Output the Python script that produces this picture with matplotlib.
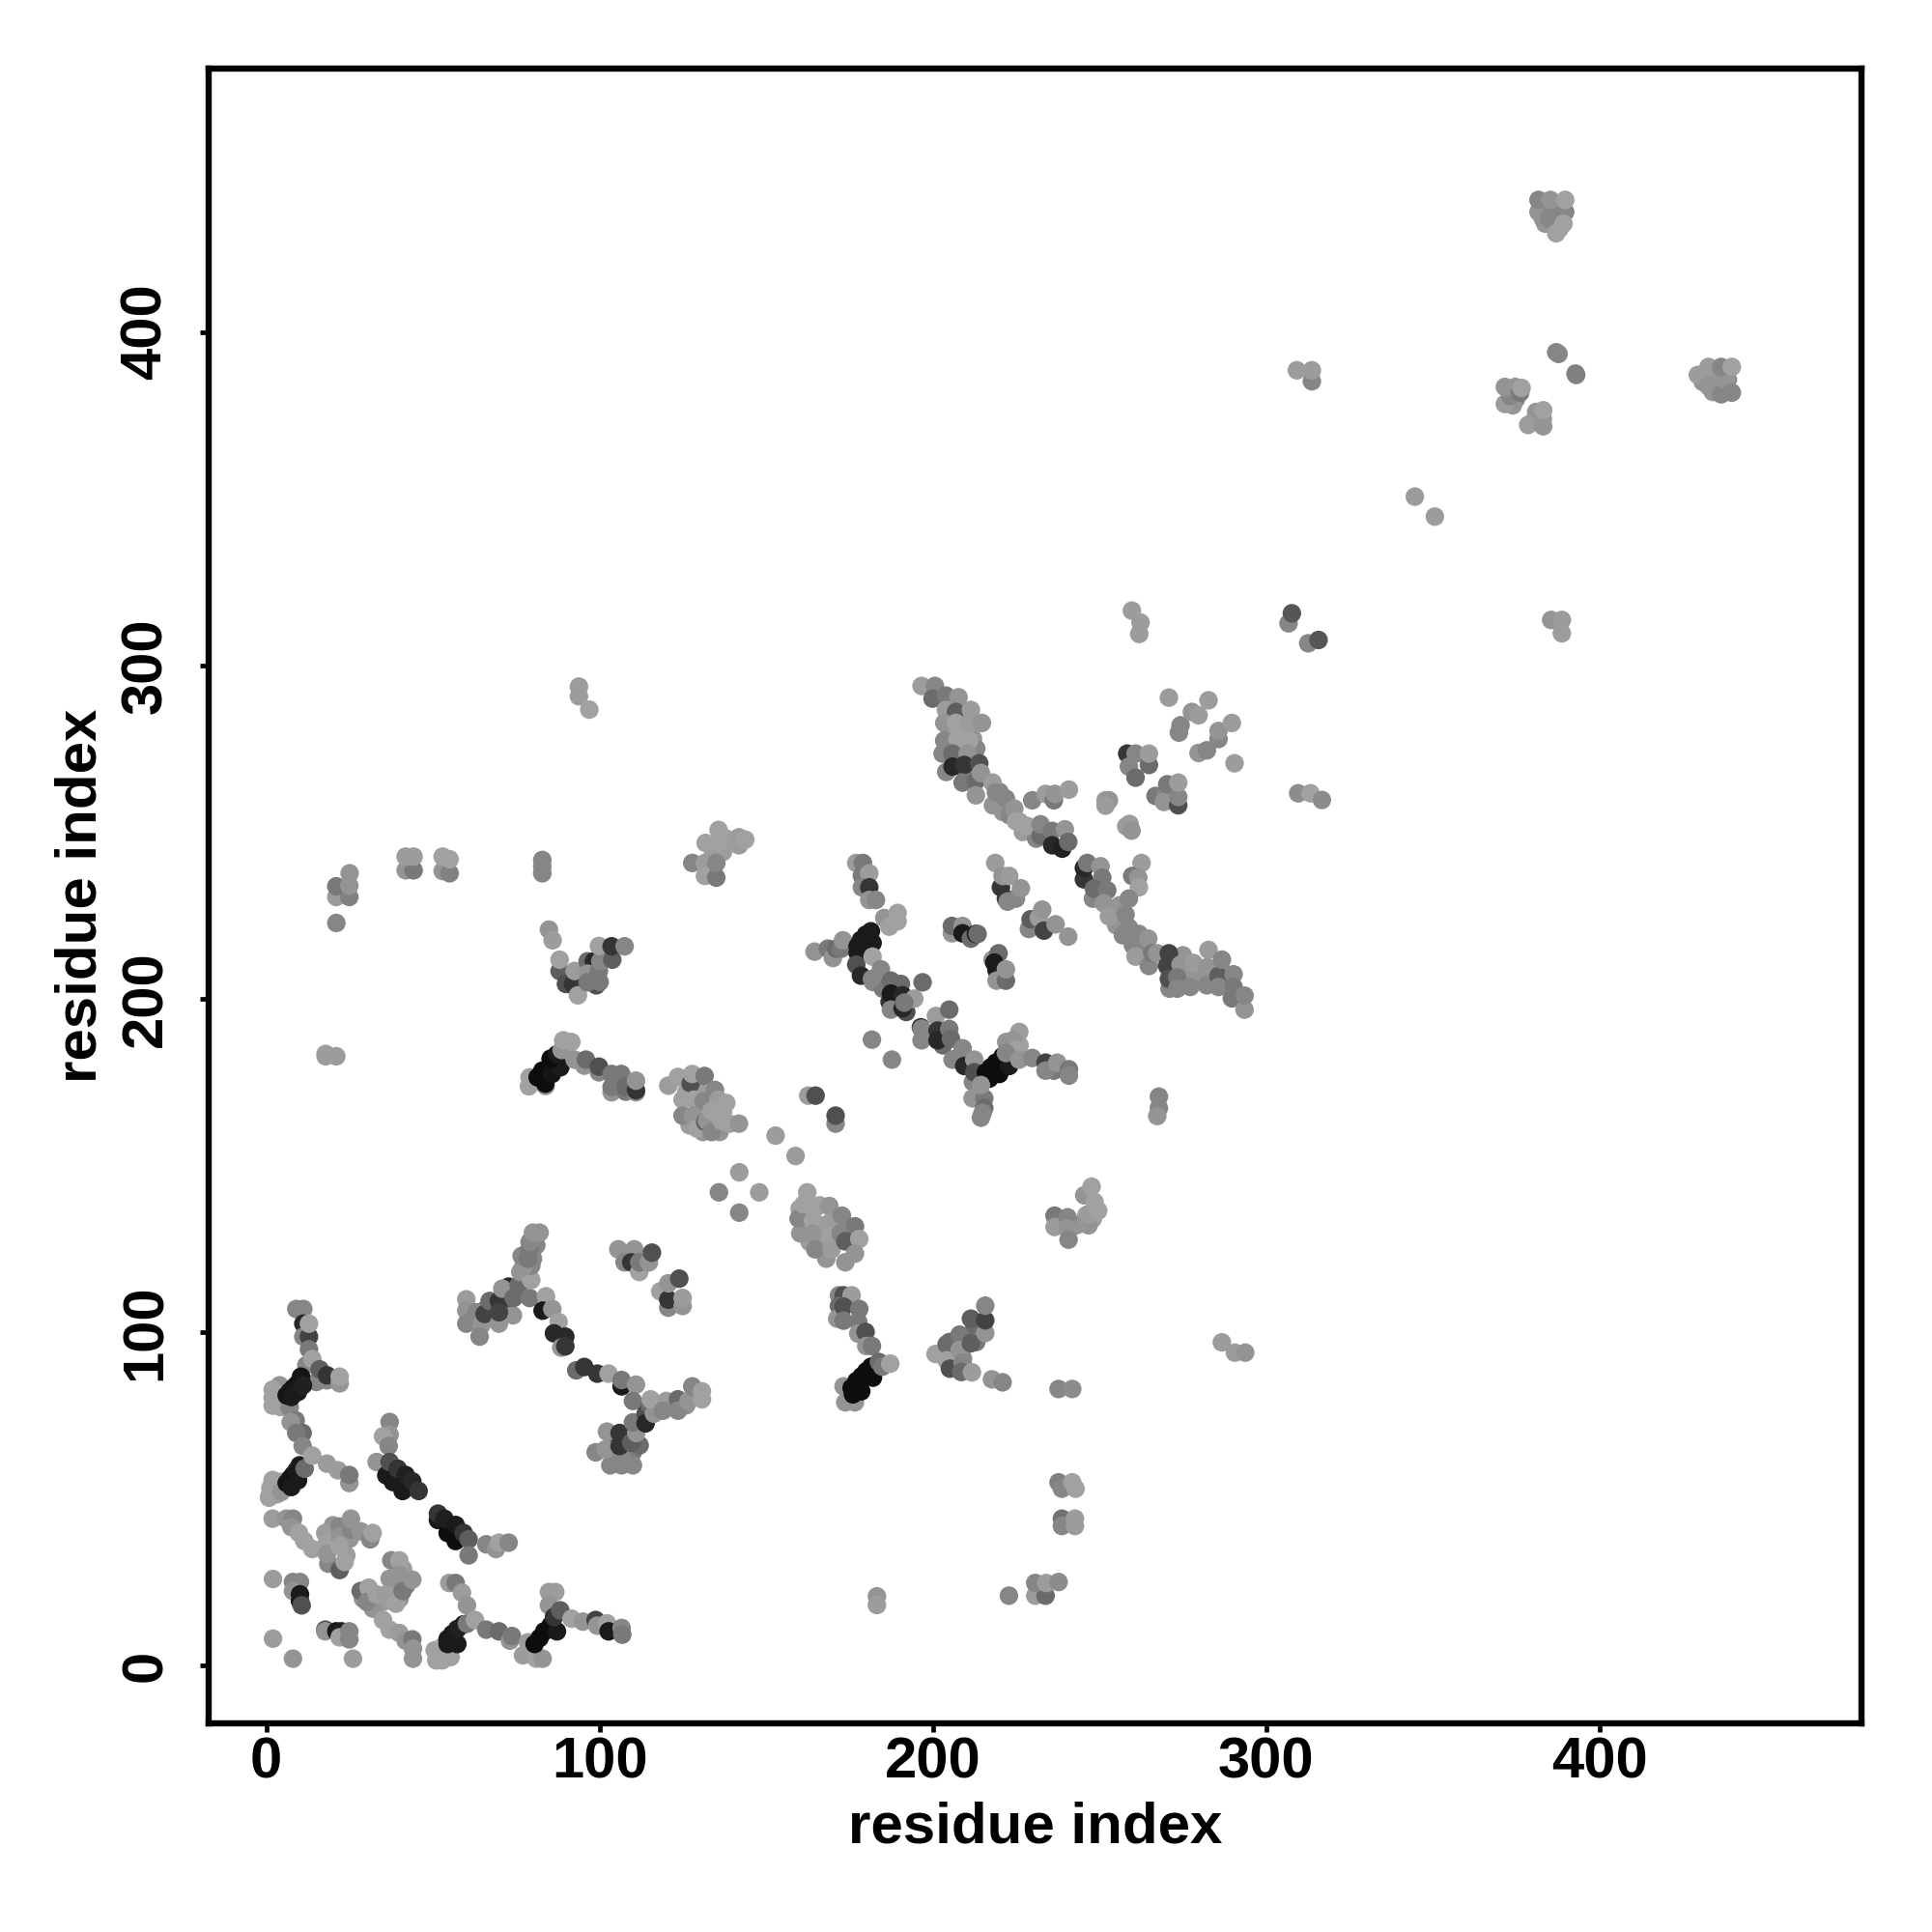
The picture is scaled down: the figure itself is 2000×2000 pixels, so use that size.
"""Residue contact map, grey level = contact strength (darker = stronger)."""

import matplotlib
matplotlib.use("Agg")
import matplotlib.pyplot as plt

XTICKS = [0, 100, 200, 300, 400]
YTICKS = [0, 100, 200, 300, 400]
AXIS_LABEL = "residue index"

# (residue x, residue y, grey level), drawn in this order
contacts_dense = [
    (166, 132, .6), (166, 127, .6), (171, 134, .6), (171, 129, .58), (175, 130, .55), (162, 135, .6), (166, 138, .6),
    (160, 137, .6), (168, 122, .55), (163, 127, .58),
    (126, 172, .6), (130, 172, .58), (130, 167, .6), (134, 167, .6), (134, 163, .6), (137, 166, .6), (131, 160, .55),
    (127, 162, .58), (136, 160, .55),
    (205, 280, .58), (209, 280, .6), (205, 275, .55), (209, 275, .58), (207, 284, .55), (212, 278, .55), (213, 275, .5),
    (204, 268, .5), (210, 268, .5),
    (218, 258, .55), (221, 256, .55), (223, 255, .5), (226, 253, .58), (220, 262, .5), (227, 250, .58), (231, 248, .5),
    (255, 222, .55), (257, 219, .5), (260, 216, .5), (253, 227, .55), (256, 228, .55), (263, 214, .5), (262, 217, .5),
    (248, 230, .5), (250, 234, .5),
    (276, 207, .55), (280, 208, .58), (275, 213, .55), (278, 206, .55), (283, 208, .55), (271, 203, .5), (288, 205, .5),
    (287, 208, .55),
    (383, 437, .55), (386, 434, .55), (388, 431, .55), (383, 434, .55), (387, 437, .5),
    (434, 386, .55), (436, 384, .55), (434, 382, .55), (437, 387, .55), (431, 385, .55),
    (375, 380, .5), (374, 378, .55), (380, 373, .55), (381, 376, .55),
    (20, 36, .58), (24, 33, .58), (20, 42, .55), (25, 38, .55), (33, 21, .58), (35, 19, .58), (38, 22, .55), (40, 20, .55),
    (42, 24, .5), (29, 20, .55), (32, 17, .55), (37, 26, .55), (41, 29, .58), (15, 85, .5), (12, 90, .5),
    (3, 52, .6), (2, 54, .6), (4, 55, .6), (1, 51, .6), (3, 80, .6), (4, 84, .55),
    (62, 104, .5), (66, 107, .45), (72, 108, .3), (74, 105, .55), (77, 118, .5), (80, 122, .5), (81, 126, .5),
    (116, 77, .5), (118, 78, .55), (112, 72, .3), (108, 67, .3), (104, 67, .4), (110, 64, .45), (112, 66, .4), (126, 78, .55),
    (92, 204, .4), (94, 206, .4), (99, 204, .3), (100, 205, .45), (101, 213, .45),
    (205, 97, .4), (206, 93, .5), (209, 92, .5), (212, 100, .4), (213, 97, .45),
    (138, 248, .6), (134, 243, .58), (137, 244, .58),
    (246, 135, .6), (248, 134, .6), (243, 132, .55), (238, 132, .55),
    (182, 205, .5), (185, 203, .45), (187, 199, .2), (192, 196, .3), (203, 186, .4), (207, 182, .4), (212, 175, .5),
    (226, 186, .6), (222, 187, .55),
]

contacts_lower_left = [
    (1.9, 82.7, .6), (1.9, 80.3, .6), (1.9, 77.9, .6), (4.2, 77.5, .6), (9, 106.9, .5), (11.1, 106.9, .5),
    (11.1, 102.5, .15), (11.1, 98.6, .5), (12.8, 98.6, .25), (12.8, 102.5, .6), (12.8, 94.8, .45), (13.8, 91.9, .6),
    (16, 88.8, .35), (18.2, 85.5, .5), (18.2, 87, .2), (22, 84.6, .55), (22, 86.6, .6),
    (7, 77.4, .5), (8.8, 73.5, .45), (7.3, 73, .55), (10.9, 69.7, .4), (9, 69.7, .45), (10.9, 65.8, .5),
    (6.1, 81, .08), (7.1, 82.2, .08), (8.1, 83.2, .08), (9.1, 84.2, .08), (10.1, 85.2, .08), (10.4, 86.6, .08),
    (7.5, 80.5, .1), (9.5, 82, .1), (11, 84, .12),
    (1.9, 55.6, .6), (1.2, 53.2, .6), (0.8, 50.3, .6), (3.2, 51.3, .6), (4.5, 52, .55),
    (6.1, 54.7, .08), (7.1, 56, .08), (8.1, 57.2, .08), (9.1, 58.5, .1), (10, 60, .1), (7.5, 53.5, .1), (9.5, 55.5, .1),
    (11.5, 59, .4), (13.8, 62.9, .6), (18.2, 60.5, .58), (21.5, 58.5, .58), (24.9, 54.7, .55), (24.9, 57.1, .45),
    (1.9, 44, .58), (6, 44, .55), (8, 44, .5), (7.5, 41.5, .55), (9.8, 39.7, .6), (11.4, 37.3, .6), (13.8, 34.9, .6),
    (18.6, 30.5, .5), (17.7, 39.7, .58), (18.2, 36.8, .6), (18.2, 33.4, .55), (22, 28.6, .35), (22, 41.6, .5),
    (22, 38.7, .55), (22, 35.8, .6), (23.5, 31, .6), (25.4, 40.7, .5), (25.4, 44, .55), (28.3, 40.2, .55),
    (31.2, 37.8, .5), (31.9, 39.7, .6),
    (2, 25.9, .58), (8, 25, .5), (10.1, 25, .5), (8, 22.3, .55), (10.1, 21.3, .1), (10.1, 19.3, .1), (10.6, 18, .3),
    (2, 8, .58), (8, 2, .55), (26, 2, .58), (17.7, 10.7, .3), (17.7, 10.2, .55), (21, 10.2, .1), (22.5, 10.2, .12),
    (22, 8.4, .6), (24.9, 7.8, .5), (24.9, 10.2, .5),
    (28.3, 22.3, .4), (30.7, 23.3, .6), (30.2, 19, .5), (33.1, 21.3, .6), (36, 21.3, .58), (38.9, 18.5, .6),
    (37.5, 31.5, .5), (39.9, 31.5, .6), (39.9, 27.2, .55), (40.9, 22.3, .45), (43.8, 25.7, .55),
    (35, 13.6, .6), (37, 10.7, .6), (39.9, 9.7, .58), (41.8, 7.4, .55), (43.8, 7.8, .45), (44, 5, .55), (44, 2, .55),
]

contacts_diagonal_low = [
    (37, 73, .5), (37, 69.2, .55), (35, 68.7, .6), (36.7, 65.8, .5), (33.1, 61, .55),
    (36, 57, .1), (38, 55, .1), (40.9, 52.3, .1), (37, 61, .3), (39.4, 59, .2), (41.8, 57.1, .12),
    (43.8, 55.2, .15), (45.7, 52.3, .2),
    (51.5, 43.6, .1), (54.4, 39.7, .05), (56.8, 37.3, .05), (51.5, 45.5, .2), (53.4, 44, .12), (56.8, 42.1, .1),
    (59.2, 39.7, .2), (60.7, 37.8, .35), (60.7, 33, .45), (66, 36.3, .5), (68.9, 34.9, .55), (69.8, 36.8, .6),
    (72.7, 36.8, .5),
    (54.9, 24.7, .58), (56.8, 24.7, .45), (58.7, 21.8, .58), (60.2, 18, .55),
    (51, 1.5, .6), (52.8, 1.5, .6), (55.3, 2.5, .6), (50.5, 4.5, .6), (52.8, 5.5, .6),
    (54.4, 6.4, .1), (57.3, 6.4, .1), (54.4, 7.9, .1), (55.8, 9.4, .1), (57.3, 10.9, .12), (59.2, 12.3, .12),
    (60.2, 12.5, .45), (62.6, 13.6, .6),
    (66, 10.7, .45), (69.8, 10.2, .4), (73.1, 7.4, .55), (73.7, 8.8, .45), (78.5, 6.9, .58), (77, 3, .58),
    (81, 2, .6), (82.9, 2, .55), (84.8, 22, .58), (86.7, 22, .58), (84.8, 18, .55),
    (80.5, 6.4, .05), (82, 8.2, .05), (83.4, 10.2, .05), (85.3, 12, .05), (87.2, 10.2, .1), (86.3, 14.5, .2),
    (88.2, 16.5, .35), (91.6, 14, .6), (95, 13.1, .55), (98.8, 13.6, .25), (99.3, 11.9, .55), (102.2, 12.6, .6),
    (102.7, 10.2, .1), (106.6, 11.2, .5), (106.8, 9.2, .45),
]

contacts_lower_mid = [
    (60, 109.8, .58), (60, 106.4, .55), (60, 102.5, .5), (63, 105.9, .5), (64.5, 102, .55), (64, 98.6, .5),
    (65.5, 105.4, .25), (67, 109.3, .4), (69.8, 102.5, .55), (69.8, 109.3, .2), (69.8, 105.9, .25),
    (72.7, 113.6, .15), (70.8, 113, .55), (74.2, 110.2, .4), (75.7, 114.1, .4), (76.2, 118, .55), (79, 110.2, .45),
    (79.5, 115.6, .6), (79.5, 119.9, .5), (77, 119.4, .55), (76.6, 122.8, .5), (78.5, 122, .45), (79, 125, .45),
    (79, 127, .5), (80, 129.8, .55), (82, 129.8, .55), (83.9, 110.7, .6), (82.9, 106.4, .1), (85.8, 106.9, .55),
    (87.7, 103, .6), (86.3, 99.6, .15), (89.7, 98.6, .15), (88.5, 95.3, .55), (89.7, 95.7, .2),
    (93, 88.5, .4), (95.4, 89.5, .2), (99.3, 87.5, .2), (102.7, 87.5, .6), (106.6, 83.7, .1), (106.6, 85.6, .45),
    (110.9, 84.2, .55),
    (98.8, 63.9, .5), (103.2, 60, .5), (106.6, 60, .5), (110, 60, .5), (102.2, 70.1, .55), (101.8, 64.8, .55),
    (106.6, 62.8, .5), (106, 69.7, .2), (106, 65.8, .2), (109.5, 66.8, .35), (111, 69.7, .55), (110, 79.3, .45),
    (110, 72.9, .45), (113.8, 75.5, .3), (113.8, 72.6, .15), (115, 78.3, .4), (116.3, 75.5, .55), (115.3, 79.8, .6),
    (120, 79.3, .58), (119, 76.4, .5), (123.5, 79.8, .4), (123.5, 76.4, .5), (126.7, 79.3, .55), (127.8, 83.7, .5),
    (130.7, 79.8, .6), (130.7, 82.2, .6),
    (105.6, 124.8, .55), (110.4, 124.8, .55), (107.5, 120.9, .5), (109.5, 120.9, .2), (111.9, 118, .6), (111.9, 120.9, .45),
    (114.8, 120.9, .55), (115.7, 123.8, .3),
    (118.2, 112.2, .6), (120.6, 107.3, .5), (120.6, 109.7, .2), (120.6, 114.6, .55), (124.9, 107.8, .55),
    (124.9, 110.2, .58), (123.9, 116, .3),
]

contacts_middle = [
    (120.6, 173.9, .58), (123.5, 176.5, .6), (127.3, 174.5, .3), (127.8, 177.4, .6), (131.5, 176.8, .45),
    (134.6, 172.6, .5), (124.9, 169.7, .6), (128.3, 169.7, .6), (131.2, 169.2, .5), (135.6, 169.7, .58), (138, 168.7, .6),
    (124.9, 164.9, .5), (128, 164.9, .55), (129.3, 161, .6), (131.7, 163, .35), (132.2, 163.4, .55), (133.6, 160, .5),
    (133.6, 166.3, .6), (136.5, 163.4, .6), (139, 162.5, .6), (141.8, 162.5, .55),
    (152.8, 158.9, .58), (158.8, 152.8, .58), (141.9, 147.9, .58), (135.8, 141.9, .5), (147.9, 141.9, .58),
    (141.9, 135.8, .5), (162.6, 170.9, .58), (164.8, 170.9, .3), (170.8, 162.5, .5), (170.8, 164.9, .3),
    (160.2, 129.6, .55), (159.7, 134, .5), (162.3, 141.9, .6), (161.2, 138.3, .6), (164, 133.5, .6), (164.1, 129.6, .55),
    (164.5, 136.9, .6), (164.7, 124.8, .5), (168.9, 137.8, .55), (168.9, 132.7, .58), (169.3, 128.6, .6), (169.6, 124.8, .58),
    (172.7, 134.9, .5), (172.3, 129.6, .5), (176.6, 131.7, .45), (173.7, 127.2, .35), (177.9, 127.9, .6),
    (176.6, 123.5, .55), (173.7, 120.9, .55),
    (171.8, 111, .5), (173.2, 111, .3), (175.6, 111, .58), (171.8, 107.8, .4), (171.3, 104, .55), (173.2, 107.6, .3),
    (173.2, 103.4, .45), (177.6, 103, .45), (177.9, 106.9, .45), (177.6, 99.5, .55), (179.8, 100, .3), (180, 95.8, .55),
    (181.7, 95.8, .45),
    (173.2, 83.7, .55), (173.7, 78.9, .55), (176.6, 78.9, .55), (175.6, 83.2, .05), (176, 81.3, .05), (178.5, 82.2, .05),
    (177.1, 85.3, .05), (178.6, 86.7, .05), (180, 88.2, .05), (181.5, 89.6, .05), (182, 86.3, .05),
    (183.8, 91, .4), (184.8, 89.6, .45), (187.2, 90.5, .6),
    (200.8, 93.4, .6), (204.1, 96.3, .4), (204.1, 91.5, .6), (205.1, 89, .3), (208, 99.2, .45), (208, 94.6, .55),
    (208.9, 90.8, .5), (208.5, 88, .4), (211.4, 104, .35), (211.4, 96.6, .35), (211.7, 87.9, .58), (215.7, 99.7, .55),
    (215.7, 103.5, .25), (215.7, 107.9, .5), (217.7, 85.8, .55), (220.9, 84.9, .5),
    (237.7, 82.9, .5), (241.8, 82.9, .52), (236.5, 134.9, .45), (236.5, 131.5, .58), (240.4, 134.4, .5),
    (240.4, 131, .55), (240.7, 127.7, .5), (246.7, 132, .55), (246.7, 135.4, .58), (249.6, 136.4, .6),
    (245.4, 141, .55), (248.5, 139, .6), (247.6, 143.6, .6),
    (286.7, 96.9, .58), (290.6, 93.8, .58), (293.7, 93.8, .55), (183.2, 20.7, .55), (183.2, 18.1, .58),
    (237.7, 54.9, .48), (238.7, 53, .5), (241.8, 54.9, .6), (242.8, 53, .6),
    (238.7, 44, .42), (238.7, 41.8, .5), (242.6, 44, .58), (242.6, 41.8, .58),
    (222.8, 20.9, .5), (230.7, 20.9, .58), (233.8, 20.9, .4), (230.7, 24.7, .5), (234, 24.7, .58), (237.7, 25, .52),
]

contacts_upper_left = [
    (93.8, 293.6, .58), (93.8, 290.7, .58), (96.9, 286.7, .6),
    (21, 230.5, .58), (21, 233.7, .45), (24.9, 230.5, .48), (24.9, 233.9, .55), (25, 237.6, .55), (21, 222.7, .5),
    (41.8, 238.5, .55), (44.2, 238.5, .45), (41.8, 242.6, .58), (44.2, 242.6, .58),
    (52.9, 238.3, .55), (55, 237.6, .48), (52.9, 242.6, .6), (55, 241.8, .6),
    (82.8, 237.6, .5), (82.8, 239.6, .5), (82.8, 241.6, .5),
    (127.8, 240.7, .5), (131.6, 240.7, .58), (131.6, 236.8, .6), (135, 236.3, .45), (135, 240.7, .5),
    (131.8, 246.7, .6), (135.7, 246.9, .6), (135.7, 250.6, .6), (141.8, 246, .58), (141.8, 248.4, .58), (143.7, 247.7, .6),
    (84.8, 220.7, .55), (85.9, 217.5, .58),
    (88, 208.3, .35), (88, 211.7, .6), (89.9, 204.4, .3), (92, 204.4, .2), (93.5, 201, .6), (92.5, 208.3, .58),
    (96.4, 211.2, .4), (98.3, 211.2, .15), (96.4, 207.5, .55), (96.4, 204.9, .45), (99.8, 208.3, .45), (100.2, 211.2, .5),
    (103.8, 211.7, .35), (99.8, 215.8, .6), (103.6, 215.7, .2), (107.5, 215.7, .5),
    (17.8, 183.4, .58), (17.8, 182.7, .58), (21, 182.7, .58),
    (79, 176.4, .6), (78.8, 173.7, .6), (83.8, 173.8, .55),
    (81.4, 176.4, .05), (83.7, 174.5, .05), (82.8, 178.4, .05), (85.7, 177.4, .08), (85.7, 181.7, .05),
    (88.2, 179.4, .1), (85.3, 182, .05), (87.2, 183.3, .1),
    (88.6, 184.6, .55), (89.1, 187.5, .6), (91.5, 187, .6), (92.5, 181.7, .55), (95.4, 179.9, .55), (95.9, 181.7, .4),
    (99.8, 177.9, .5), (99.8, 179.6, .3), (103.6, 177.4, .45), (106.5, 177.4, .45), (103.6, 171.9, .55), (103.6, 173.5, .45),
    (107.8, 172.1, .45), (107.8, 173.5, .4), (110.9, 171.9, .55), (110.9, 172.5, .2), (110.9, 175.4, .55),
]

contacts_central = [
    (196.6, 293.8, .58), (200.6, 293.8, .5), (199.9, 290, .4), (203.9, 290.9, .45), (207.7, 290.4, .55),
    (203.9, 286.6, .58), (206.9, 286, .35), (203.4, 282.7, .55), (206.9, 282.7, .6), (210.9, 282.7, .58),
    (211.4, 286.6, .58), (214.7, 282.7, .55), (203.4, 277.4, .5), (207.4, 277.9, .6), (210.9, 277.4, .6),
    (202.9, 273.5, .5), (205.9, 273.5, .4), (210.4, 273.5, .55), (205.9, 269.6, .15), (209.4, 270.1, .2),
    (213.9, 270.6, .3), (208.9, 264.8, .45), (212.9, 265.3, .4), (214.4, 267.7, .55), (212.9, 261, .55),
    (217.9, 264.8, .58), (218.9, 261.9, .5), (221.9, 260, .5), (224.4, 257, .55), (224.9, 253.2, .6),
    (229.8, 259.5, .5), (233.8, 261.4, .58), (236.3, 259.5, .45), (236.6, 261.4, .55), (240.8, 262.7, .58),
    (228.3, 251.8, .6), (232.3, 248.9, .4), (232.3, 252.3, .5), (235.8, 250.3, .45), (239.6, 250.8, .55),
    (235.8, 246, .15), (238.8, 245, .12), (240.6, 247, .4),
    (245.3, 235.8, .2), (245.3, 239.2, .15), (246.3, 240.7, .45), (250.3, 239.7, .55), (250.8, 236.3, .45),
    (248.3, 233, .4), (252.3, 232.5, .45), (262.6, 240.7, .58), (259.8, 236.8, .45), (261.6, 236.3, .55),
    (261.8, 233.4, .6), (258.8, 230, .5), (251.3, 228.6, .55), (252.8, 224.7, .58), (257.8, 225.2, .5),
    (258.8, 221.3, .5), (261.8, 219.4, .5), (264.6, 218, .55), (260.8, 212.6, .58), (264.8, 209.8, .5),
    (265.8, 213.6, .45), (267.3, 213.6, .55), (270.8, 213.6, .25), (270.3, 209.8, .25), (270.8, 205.9, .3),
    (274.3, 210.2, .55), (278.2, 210.7, .58), (273.3, 206.4, .45), (273.3, 203, .5), (277.2, 203.5, .5),
    (282.7, 214.6, .58), (282.2, 209.4, .55), (282.2, 204, .5), (285.7, 206.8, .35), (286.7, 211.7, .5),
    (285.7, 203.5, .5), (290.2, 207.3, .5), (290.2, 203.5, .45), (289.7, 200.1, .45), (293.5, 196.7, .55), (293.5, 200.9, .5),
    (218.7, 240.7, .58), (220.4, 233.4, .2), (220.9, 236.8, .55), (222.9, 236.8, .58), (221.9, 230, .2), (222.4, 229.1, .5),
    (224.9, 230, .5), (226.4, 233.1, .55),
    (228.8, 220.9, .5), (229.3, 223.8, .35), (231.8, 224.2, .58), (232.8, 226.7, .55), (233.3, 220.4, .25),
    (236.8, 222.3, .55), (240.6, 218.6, .55),
    (205.7, 219.6, .55), (205.7, 221.8, .4), (208.9, 221.8, .55), (208.9, 219.6, .1), (211.4, 218, .4),
    (212.9, 219.4, .1), (213.4, 219.4, .4),
    (217.9, 211.7, .55), (219.7, 213.6, .4), (218.4, 210.8, .1), (219.1, 208.5, .1), (219.1, 205.4, .55),
    (221.9, 205.4, .4), (221.9, 208.8, .55),
    (177, 240.7, .58), (179, 240.7, .45), (178.7, 236.9, .45), (180.9, 237.6, .58), (178.7, 233.4, .5), (180.9, 233.4, .2),
    (180.9, 229.6, .55), (182.9, 229.6, .5), (185.4, 224.2, .55), (186.9, 221.6, .6), (189.4, 223.2, .6), (189.4, 225.7, .6),
    (164.5, 214.1, .55), (168.5, 215, .45), (170, 212.2, .55), (171, 215, .4), (172.5, 215, .45), (173, 217.5, .55),
    (177.4, 215.7, .1), (178.4, 217.6, .1), (179.9, 219.2, .1), (181.4, 220.2, .1), (177.4, 213.7, .1), (179.9, 215, .1),
    (181.9, 216.7, .1),
    (177, 210.2, .3), (178.4, 206.9, .15), (181.9, 212.6, .6), (181.7, 205.9, .5), (184.4, 208.8, .5), (187.4, 205.4, .4),
    (190.4, 204.4, .4), (187.4, 201.5, .1), (190.9, 201, .15), (194.4, 200, .58), (196.9, 204.9, .4),
    (187.4, 196.7, .5), (190.9, 197.1, .15), (191.4, 198.8, .45),
    (196.4, 191.4, .15), (196.6, 191, .5), (196.6, 187.5, .5), (200.9, 194.8, .58), (204.9, 196.7, .4),
    (201.4, 190.4, .2), (201.4, 187.5, .15), (204.9, 190.9, .45), (205.4, 188, .4), (208.9, 185.1, .5),
    (205.9, 181.7, .5), (209.4, 179.8, .15), (212.4, 181.7, .55), (212.4, 177.9, .3),
    (215.9, 177.9, .05), (217.4, 179.4, .05), (218.9, 180.8, .05), (220.9, 182.7, .05), (216.9, 176, .05), (219.9, 177.4, .05),
    (222.9, 179.8, .1),
    (225.9, 190, .58), (223.9, 187.5, .55), (224.9, 184.6, .6), (221.9, 183.7, .5), (225.9, 181.7, .55),
    (229.8, 182.2, .5), (233.8, 180.8, .25), (236.3, 178.4, .45), (233.8, 178.4, .5), (237.3, 180.8, .55),
    (240.8, 178.8, .45), (240.8, 176.9, .5),
    (211.9, 170.1, .55), (215.4, 170.1, .45), (214.4, 174.1, .55), (215.4, 167.2, .4), (214.9, 165.7, .5), (214.4, 164.3, .5),
    (181.7, 187.7, .5), (187.7, 181.7, .5),
    (267.8, 170.6, .5), (267.8, 167.2, .5), (267.3, 164.8, .55),
]

contacts_upper_right = [
    (259.7, 316.4, .58), (262.3, 312.8, .58), (261.9, 309.4, .58), (270.8, 290.3, .58),
    (273.8, 279.8, .5), (274.3, 282, .5), (277.7, 286, .55), (279.7, 285, .58), (282.7, 289.5, .58),
    (279.7, 273.7, .55), (282.2, 274.5, .5), (285.7, 277.9, .5), (285.7, 280.3, .55), (289.7, 282.7, .58), (290.5, 270.6, .58),
    (258.3, 273.5, .2), (258.8, 269.6, .5), (260.8, 273.5, .5), (260.8, 266.3, .4), (264.8, 270.1, .4), (264.8, 273.5, .58),
    (266.8, 260.8, .45), (269.8, 261, .5), (269.3, 259, .55), (270.3, 264.3, .45), (273.6, 258, .3), (273.6, 260.5, .5),
    (273.6, 264.8, .58), (251.8, 259.5, .58), (252.8, 259.5, .55), (251.8, 257.9, .58),
    (259, 252.4, .58), (258, 251.7, .58), (259.6, 250.4, .55),
    (306.7, 312.6, .5), (307.7, 315.6, .32), (312.6, 306.6, .5), (315.7, 307.6, .32),
    (309.6, 261.6, .52), (313.3, 261.6, .6), (316.7, 259.6, .52),
    (309.2, 388.5, .58), (313.7, 385.2, .5), (313.7, 388.5, .58),
    (385.5, 313.6, .55), (388.7, 313.6, .58), (388.7, 309.6, .58),
    (344.6, 350.6, .58), (350.6, 344.6, .58),
    (371.6, 378.4, .58), (373.2, 380.8, .5), (371.6, 383.5, .55), (374.7, 383.5, .55), (376.2, 381.8, .45), (376.6, 383.2, .6),
    (378.6, 372.1, .58), (383.1, 371.7, .55), (383, 374, .55), (383.1, 376.5, .6),
    (387, 393.9, .5), (387.7, 393.4, .5), (393, 387.1, .48), (392.8, 387.5, .48),
    (381.7, 436, .55), (381.7, 439.6, .5), (385.8, 436, .5), (385.3, 439.6, .55), (383.7, 432.5, .55), (384.9, 434, .5),
    (389.7, 436, .5), (389.7, 439.6, .6), (389.2, 432.5, .6), (387, 429.6, .6),
    (429.5, 387.1, .58), (432.7, 383.7, .55), (432.7, 389.5, .58), (438.5, 385.7, .5), (436.5, 381.3, .5),
    (438, 385.7, .55), (439.7, 381.8, .5), (436.5, 389.5, .5), (439.7, 389.5, .6),
]

CONTACT_GROUPS = [contacts_dense, contacts_lower_left, contacts_diagonal_low, contacts_lower_mid, contacts_middle,
                  contacts_upper_left, contacts_central, contacts_upper_right]

plt.rcParams["font.family"] = ["Liberation Sans", "DejaVu Sans"]
plt.rcParams["font.weight"] = "bold"

fig = plt.figure(figsize=(10, 10), dpi=200)
ax = fig.add_axes([216 / 2000, 216 / 2000, 1711 / 2000, 1713 / 2000])

for group in CONTACT_GROUPS:
    xs, ys, levels = zip(*group)
    ax.scatter(xs, ys, s=48, c=levels, cmap="gray", vmin=0, vmax=0.95, linewidths=0, zorder=3)

ax.set_xlim(-17.3, 478.6)
ax.set_ylim(-17.4, 479)
ax.set_xticks(XTICKS)
ax.set_yticks(YTICKS)
ax.tick_params(length=3.3, width=1.7, labelsize=21.5)
for lab in ax.get_yticklabels():
    lab.set_rotation(90)
    lab.set_va("center")
ax.tick_params(axis="y", pad=10)
ax.tick_params(axis="x", pad=1.5)
for spine in ax.spines.values():
    spine.set_linewidth(2.3)
ax.set_xlabel(AXIS_LABEL, fontsize=21.6, fontweight="bold", labelpad=4.5)
ax.set_ylabel(AXIS_LABEL, fontsize=21.6, fontweight="bold", labelpad=4.5)

fig.savefig("out.png", dpi=200)
